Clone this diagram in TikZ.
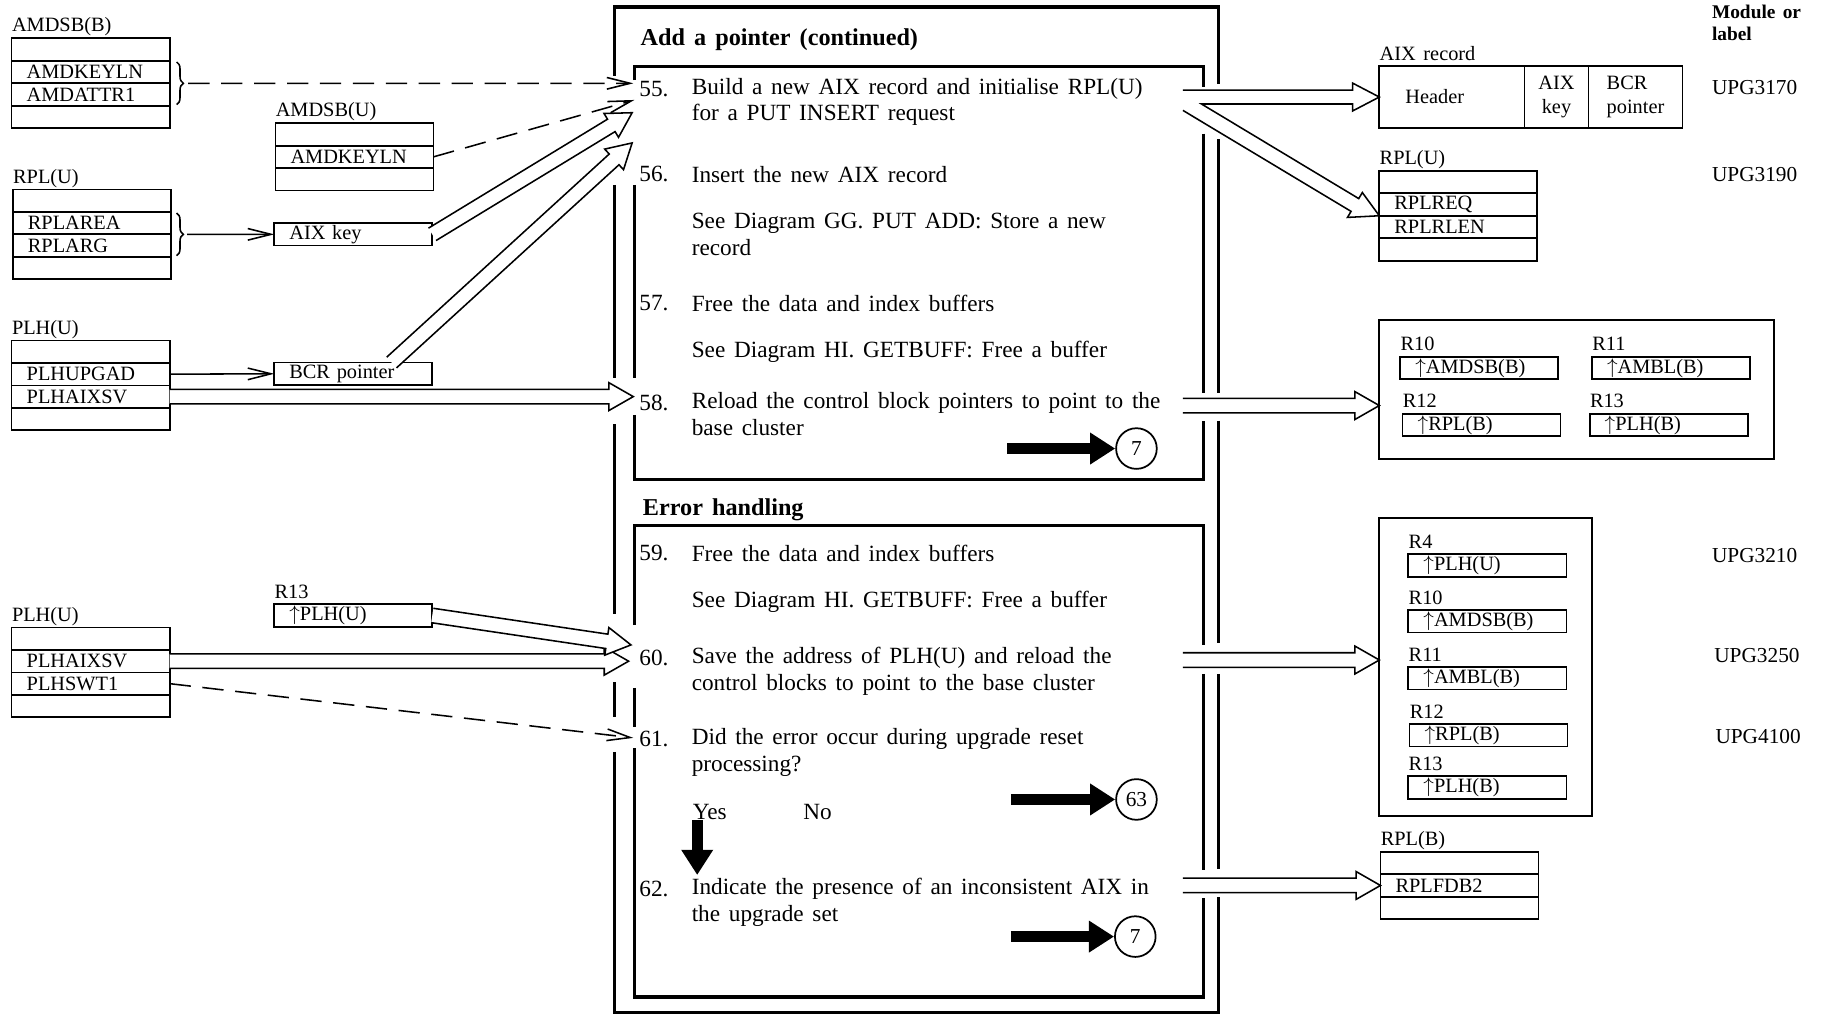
\documentclass[tikz,border=0pt]{standalone}
\usepackage{fontspec}
\setmainfont{Liberation Serif}[WordSpace=1.5]
\usepackage{tikz}
\usetikzlibrary{arrows.meta,calc,positioning,decorations.pathreplacing}

\tikzset{
  fld/.style={draw, line width=0.9pt, minimum width=81.6pt, minimum height=11.6pt,
    text width=66pt, inner xsep=7.8pt, inner ysep=0pt, outer sep=0pt, align=left,
    font=\fontsize{10.5}{12}\selectfont},
  cell/.style={draw, line width=0.9pt, minimum height=31.8pt, inner sep=0pt, outer sep=0pt,
    font=\fontsize{10.5}{12.6}\selectfont},
  lbl/.style={anchor=base west, inner sep=0pt, font=\fontsize{10.5}{12}\selectfont},
  regs/.style={draw, line width=1pt, inner sep=0pt, outer sep=0pt},
  frame/.style={line width=1.6pt},
  fat/.style={draw, line width=0.8pt, fill=white},
  barb/.style={line width=0.8pt, -{Straight Barb[length=12pt,width=6pt]}},
  dashline/.style={barb, dash pattern=on 11pt off 6pt},
  blackarrow/.style={line width=5.6pt, -{Triangle[length=13pt,width=15.6pt]}},
  jump/.style={circle, draw, line width=0.9pt, minimum size=21pt, inner sep=0pt,
    font=\fontsize{11}{12}\selectfont},
  num/.style={anchor=base west, inner sep=0pt, font=\fontsize{12}{13.8}\selectfont},
  body/.style={anchor=north west, inner sep=0pt, align=left,
    font=\fontsize{12}{13.8}\selectfont, execute at begin node=\strut},
  head/.style={anchor=base west, inner sep=0pt, font=\fontsize{12.5}{14}\selectfont\bfseries},
  brace/.style={decorate, decoration={brace, amplitude=3.5pt}, line width=0.8pt}
}

% open double-lined arrow from #1 to #2
\newcommand{\fatarrow}[2]{%
  \coordinate (fa) at ($(#2)!12.6pt!(#1)$);
  \filldraw[fat] ($(#1)!3.75pt!90:(#2)$) -- ($(fa)!3.75pt!90:(#2)$)
    -- ($(fa)!7.2pt!90:(#2)$) -- (#2) -- ($(fa)!7.2pt!-90:(#2)$)
    -- ($(fa)!3.75pt!-90:(#2)$) -- ($(#1)!3.75pt!-90:(#2)$);
}

\begin{document}
\begin{tikzpicture}[x=0.6pt,y=-0.6pt]
\useasboundingbox (0,0) rectangle (1568,874);

% input control blocks
\node[fld, anchor=north west] (amdsbb1) at (10,33) {};
\node[fld, below=0pt of amdsbb1] (amdsbb2) {AMDKEYLN};
\node[fld, below=0pt of amdsbb2] (amdsbb3) {AMDATTR1};
\node[fld, below=0pt of amdsbb3] (amdsbb4) {};
\node[lbl] (amdsbblbl) at ($(amdsbb1.north west)+(0,-5.5)$) {AMDSB(B)};

\node[fld, anchor=north west] (amdsbu1) at (237,106) {};
\node[fld, below=0pt of amdsbu1] (amdsbu2) {AMDKEYLN};
\node[fld, below=0pt of amdsbu2] (amdsbu3) {};
\node[lbl] (amdsbulbl) at ($(amdsbu1.north west)+(0,-5.5)$) {AMDSB(U)};

\node[fld, anchor=north west] (rplul1) at (11,163) {};
\node[fld, below=0pt of rplul1] (rplul2) {RPLAREA};
\node[fld, below=0pt of rplul2] (rplul3) {RPLARG};
\node[fld, below=0pt of rplul3] (rplul4) {};
\node[lbl] (rplullbl) at ($(rplul1.north west)+(0,-5.5)$) {RPL(U)};

\node[fld, anchor=north west] (aixkey) at (236,192) {AIX key};

\node[fld, anchor=north west] (plhu1) at (10,293) {};
\node[fld, below=0pt of plhu1] (plhu2) {PLHUPGAD};
\node[fld, below=0pt of plhu2] (plhu3) {PLHAIXSV};
\node[fld, below=0pt of plhu3] (plhu4) {};
\node[lbl] (plhulbl) at ($(plhu1.north west)+(0,-5.5)$) {PLH(U)};

\node[fld, anchor=north west] (bcrptr) at (236,312) {BCR pointer};

\node[fld, anchor=north west] (r13u) at (236,520) {$\uparrow$PLH(U)};
\node[lbl] (r13ulbl) at ($(r13u.north west)+(0,-5)$) {R13};

\node[fld, anchor=north west] (plhb1) at (10,540) {};
\node[fld, below=0pt of plhb1] (plhb2) {PLHAIXSV};
\node[fld, below=0pt of plhb2] (plhb3) {PLHSWT1};
\node[fld, below=0pt of plhb3] (plhb4) {};
\node[lbl] (plhblbl) at ($(plhb1.north west)+(0,-5.5)$) {PLH(U)};

% output areas
\node[cell, anchor=north west, minimum width=75pt, text width=48pt, align=left, inner xsep=13.5pt] (rechdr) at (1187,57) {Header};
\node[cell, right=0pt of rechdr, minimum width=33pt, align=center] (reckey) {AIX\\key};
\node[cell, right=0pt of reckey, minimum width=48.6pt, align=left] (recbcr) {BCR\\pointer};
\node[lbl] (reclbl) at ($(rechdr.north west)+(0,-5)$) {AIX record};

\node[fld, anchor=north west] (rplur1) at (1187,147) {};
\node[fld, below=0pt of rplur1] (rplur2) {RPLREQ};
\node[fld, below=0pt of rplur2] (rplur3) {RPLRLEN};
\node[fld, below=0pt of rplur3] (rplur4) {};
\node[lbl] (rplurlbl) at ($(rplur1.north west)+(0,-5.5)$) {RPL(U)};

\node[regs, minimum width=204pt, minimum height=72pt] (regs1) at (1357,335) {};
\node[fld, anchor=north west] (r10b) at (1205,307) {$\uparrow$AMDSB(B)};
\node[fld, anchor=north west] (r11b) at (1370,307) {$\uparrow$AMBL(B)};
\node[fld, anchor=north west] (r12b) at (1207,356) {$\uparrow$RPL(B)};
\node[fld, anchor=north west] (r13b) at (1368,356) {$\uparrow$PLH(B)};
\node[lbl] (r10blbl) at ($(r10b.north west)+(0,-5)$) {R10};
\node[lbl] (r11blbl) at ($(r11b.north west)+(0,-5)$) {R11};
\node[lbl] (r12blbl) at ($(r12b.north west)+(0,-5)$) {R12};
\node[lbl] (r13blbl) at ($(r13b.north west)+(0,-5)$) {R13};

\node[regs, minimum width=109.8pt, minimum height=153.6pt] (regs2) at (1278.5,574) {};
\node[fld, anchor=north west] (r4c) at (1212,477) {$\uparrow$PLH(U)};
\node[fld, anchor=north west] (r10c) at (1212,525) {$\uparrow$AMDSB(B)};
\node[fld, anchor=north west] (r11c) at (1212,574) {$\uparrow$AMBL(B)};
\node[fld, anchor=north west] (r12c) at (1213,623) {$\uparrow$RPL(B)};
\node[fld, anchor=north west] (r13c) at (1212,668) {$\uparrow$PLH(B)};
\node[lbl] (r4clbl) at ($(r4c.north west)+(0,-5)$) {R4};
\node[lbl] (r10clbl) at ($(r10c.north west)+(0,-5)$) {R10};
\node[lbl] (r11clbl) at ($(r11c.north west)+(0,-5)$) {R11};
\node[lbl] (r12clbl) at ($(r12c.north west)+(0,-5)$) {R12};
\node[lbl] (r13clbl) at ($(r13c.north west)+(0,-5)$) {R13};

\node[fld, anchor=north west] (rplb1) at (1188,733) {};
\node[fld, below=0pt of rplb1] (rplb2) {RPLFDB2};
\node[fld, below=0pt of rplb2] (rplb3) {};
\node[lbl] (rplblbl) at ($(rplb1.north west)+(0,-5.5)$) {RPL(B)};

% module column
\node[anchor=north west, inner sep=0pt, align=left, font=\fontsize{10}{11.4}\selectfont\bfseries,
  execute at begin node=\strut] (modhead) at (1473,3.7) {Module or\\label};
\node[lbl, font=\fontsize{11}{12}\selectfont] (upg3170) at (1473,81) {UPG3170};
\node[lbl, font=\fontsize{11}{12}\selectfont] (upg3190) at (1473,156) {UPG3190};
\node[lbl, font=\fontsize{11}{12}\selectfont] (upg3210) at (1473,484) {UPG3210};
\node[lbl, font=\fontsize{11}{12}\selectfont] (upg3250) at (1475,570) {UPG3250};
\node[lbl, font=\fontsize{11}{12}\selectfont] (upg4100) at (1476,640) {UPG4100};

% process frames
\draw[frame] (529,65) -- (529,6) -- (1049,6) -- (1049,72);
\draw[frame] (529,159) -- (529,325);
\draw[frame] (529,365) -- (529,528);
\draw[frame] (529,587) -- (529,617);
\draw[frame] (529,647) -- (529,871) -- (1049,871) -- (1049,772);
\draw[frame] (1049,120) -- (1049,338);
\draw[frame] (1049,362) -- (1049,553);
\draw[frame] (1049,580) -- (1049,748);

\draw[frame] (546,69) -- (546,57) -- (1036,57) -- (1036,75);
\draw[frame] (546,159) -- (546,325);
\draw[frame] (546,357) -- (546,413) -- (1036,413) -- (1036,362);
\draw[frame] (1036,115) -- (1036,338);

\draw[frame] (546,538) -- (546,452) -- (1036,452) -- (1036,555);
\draw[frame] (546,592) -- (546,626);
\draw[frame] (546,644) -- (546,858) -- (1036,858) -- (1036,773);
\draw[frame] (1036,580) -- (1036,749);

% steps
\node[head] (hadd) at (551,39) {Add a pointer (continued)};
\node[num] (n55) at (550,83) {55.};
\node[body] (t55) at (595,66.9) {Build a new AIX record and initialise RPL(U)\\for a PUT INSERT request};
\node[num] (n56) at (550,156.5) {56.};
\node[body] (t56) at (595,140.4) {Insert the new AIX record};
\node[body] (t56b) at (595,182.9) {See Diagram GG. PUT ADD: Store a new\\record};
\node[num] (n57) at (550,267.5) {57.};
\node[body] (t57) at (595,251.4) {Free the data and index buffers};
\node[body] (t57b) at (595,291.4) {See Diagram HI. GETBUFF: Free a buffer};
\node[num] (n58) at (550,353.5) {58.};
\node[body] (t58) at (595,337.4) {Reload the control block pointers to point to the\\base cluster};
\node[jump] (c58) at (978,386) {7};

\node[head] (herr) at (553,444) {Error handling};
\node[num] (n59) at (550,482.5) {59.};
\node[body] (t59) at (595,466.4) {Free the data and index buffers};
\node[body] (t59b) at (595,506.4) {See Diagram HI. GETBUFF: Free a buffer};
\node[num] (n60) at (550,572.5) {60.};
\node[body] (t60) at (595,556.4) {Save the address of PLH(U) and reload the\\control blocks to point to the base cluster};
\node[num] (n61) at (550,642.5) {61.};
\node[body] (t61) at (595,626.4) {Did the error occur during upgrade reset\\processing?};
\node[num] (yes) at (596,705) {Yes};
\node[num] (no) at (691,705) {No};
\node[jump] (c61) at (978,688) {63};
\node[num] (n62) at (550,771.5) {62.};
\node[body] (t62) at (595,755.4) {Indicate the presence of an inconsistent AIX in\\the upgrade set};
\node[jump] (c62) at (977,806) {7};

\coordinate (go58) at (867,386);
\coordinate (go61) at (870,688);
\coordinate (go62) at (870,806);
\coordinate (yesfrom) at (600,706);
\coordinate (yesto) at (600,753);
\draw[blackarrow] (go58) -- (c58);
\draw[blackarrow] (go61) -- (c61);
\draw[blackarrow] (go62) -- (c62);
\draw[blackarrow] (yesfrom) -- (yesto);

% inputs
\coordinate (amdbrace) at ($(amdsbb2.south east)+(16,0)$);
\coordinate (rplbrace) at ($(rplul2.south east)+(14,0)$);
\coordinate (bcrtop) at ($(bcrptr.north east)+(-35,0)$);
\coordinate (i55a) at (545,71.7);
\coordinate (i55b) at (546,86);
\coordinate (i55c) at (544,97);
\coordinate (i55d) at (544,123);
\coordinate (i58) at (545,341.3);
\coordinate (i60a) at (543,555);
\coordinate (i60b) at (541,569);
\coordinate (i61) at (545,635);

\draw[brace] ($(amdsbb2.north east)+(6,1)$) -- ($(amdsbb3.south east)+(6,-1)$);
\draw[brace] ($(rplul2.north east)+(5,1)$) -- ($(rplul3.south east)+(5,-1)$);
\draw[dashline] (amdbrace) -- (i55a);
\draw[dashline] (amdsbu2.east) -- (i55b);
\draw[barb] (rplbrace) -- (aixkey.west);
\draw[barb] (plhu2.east) -- (bcrptr.west);
\draw[dashline] (plhb3.east) -- (i61);
\fatarrow{aixkey.east}{i55c}
\fatarrow{bcrtop}{i55d}
\fatarrow{plhu3.east}{i58}
\fatarrow{plhb2.east}{i60b}
\fatarrow{r13u.east}{i60a}

% outputs
\coordinate (o58) at (1018,349);
\coordinate (o60) at (1018,568);
\coordinate (o62) at (1018,762);
\filldraw[fat] (1018,77.5) -- (1164,77.5) -- (1164,71.5) -- (rechdr.west) -- (1164,95.5)
  -- (1164,89.5) -- (1034,89.5) -- (1169.3,170.9) -- (1172.4,165.7) -- (rplur2.south west)
  -- (1159.6,187.1) -- (1162.7,181.9) -- (1018,95);
\fatarrow{o58}{o58 -| regs1.west}
\fatarrow{o60}{o60 -| regs2.west}
\fatarrow{o62}{rplb2.west}
\end{tikzpicture}
\end{document}
